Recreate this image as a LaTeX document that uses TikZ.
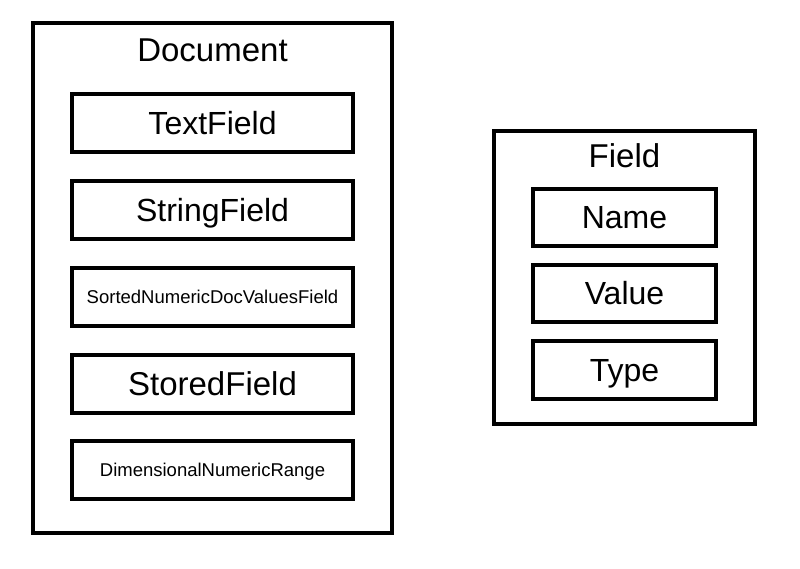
\documentclass[tikz,border=0pt]{standalone}
\usepackage{fontspec}
\setmainfont{Liberation Sans}
\begin{document}
\begin{tikzpicture}[x=1pt,y=-1pt,
  box/.style={draw=black,line width=4pt,fill=white,inner sep=0pt,anchor=center},
  big/.style={font=\fontsize{32}{38}\selectfont,text height=23pt,text depth=0pt},
  small/.style={font=\fontsize{18.5}{22}\selectfont,text height=13pt,text depth=0pt},
  title/.style={font=\fontsize{33}{38}\selectfont,anchor=base,inner sep=0pt}]
\useasboundingbox (0,0) rectangle (800,569);
% Document container
\node[box,minimum width=359pt,minimum height=510pt] (doc) at (212.5,278) {};
\node[title] (doct) at (212.5,62) {Document};
\node[box,big,minimum width=281pt,minimum height=58pt] (tf) at (212.5,123) {TextField};
\node[box,big,minimum width=281pt,minimum height=58pt] (sf) at (212.5,210) {StringField};
\node[box,small,minimum width=281pt,minimum height=58pt] (sn) at (212.5,297) {SortedNumericDocValuesField};
\node[box,big,font=\fontsize{33}{38}\selectfont,minimum width=281pt,minimum height=58pt] (st) at (212.5,384) {StoredField};
\node[box,small,minimum width=281pt,minimum height=58pt] (dn) at (212.5,470) {DimensionalNumericRange};
% Field container
\node[box,minimum width=261pt,minimum height=293pt] (fld) at (624.5,277.5) {};
\node[title] (fldt) at (624.5,168) {Field};
\node[box,big,minimum width=183pt,minimum height=57pt] (nm) at (624.5,217.5) {Name};
\node[box,big,minimum width=183pt,minimum height=57pt] (vl) at (624.5,293.5) {Value};
\node[box,big,minimum width=183pt,minimum height=58pt] (ty) at (624.5,370) {Type};
\end{tikzpicture}
\end{document}
